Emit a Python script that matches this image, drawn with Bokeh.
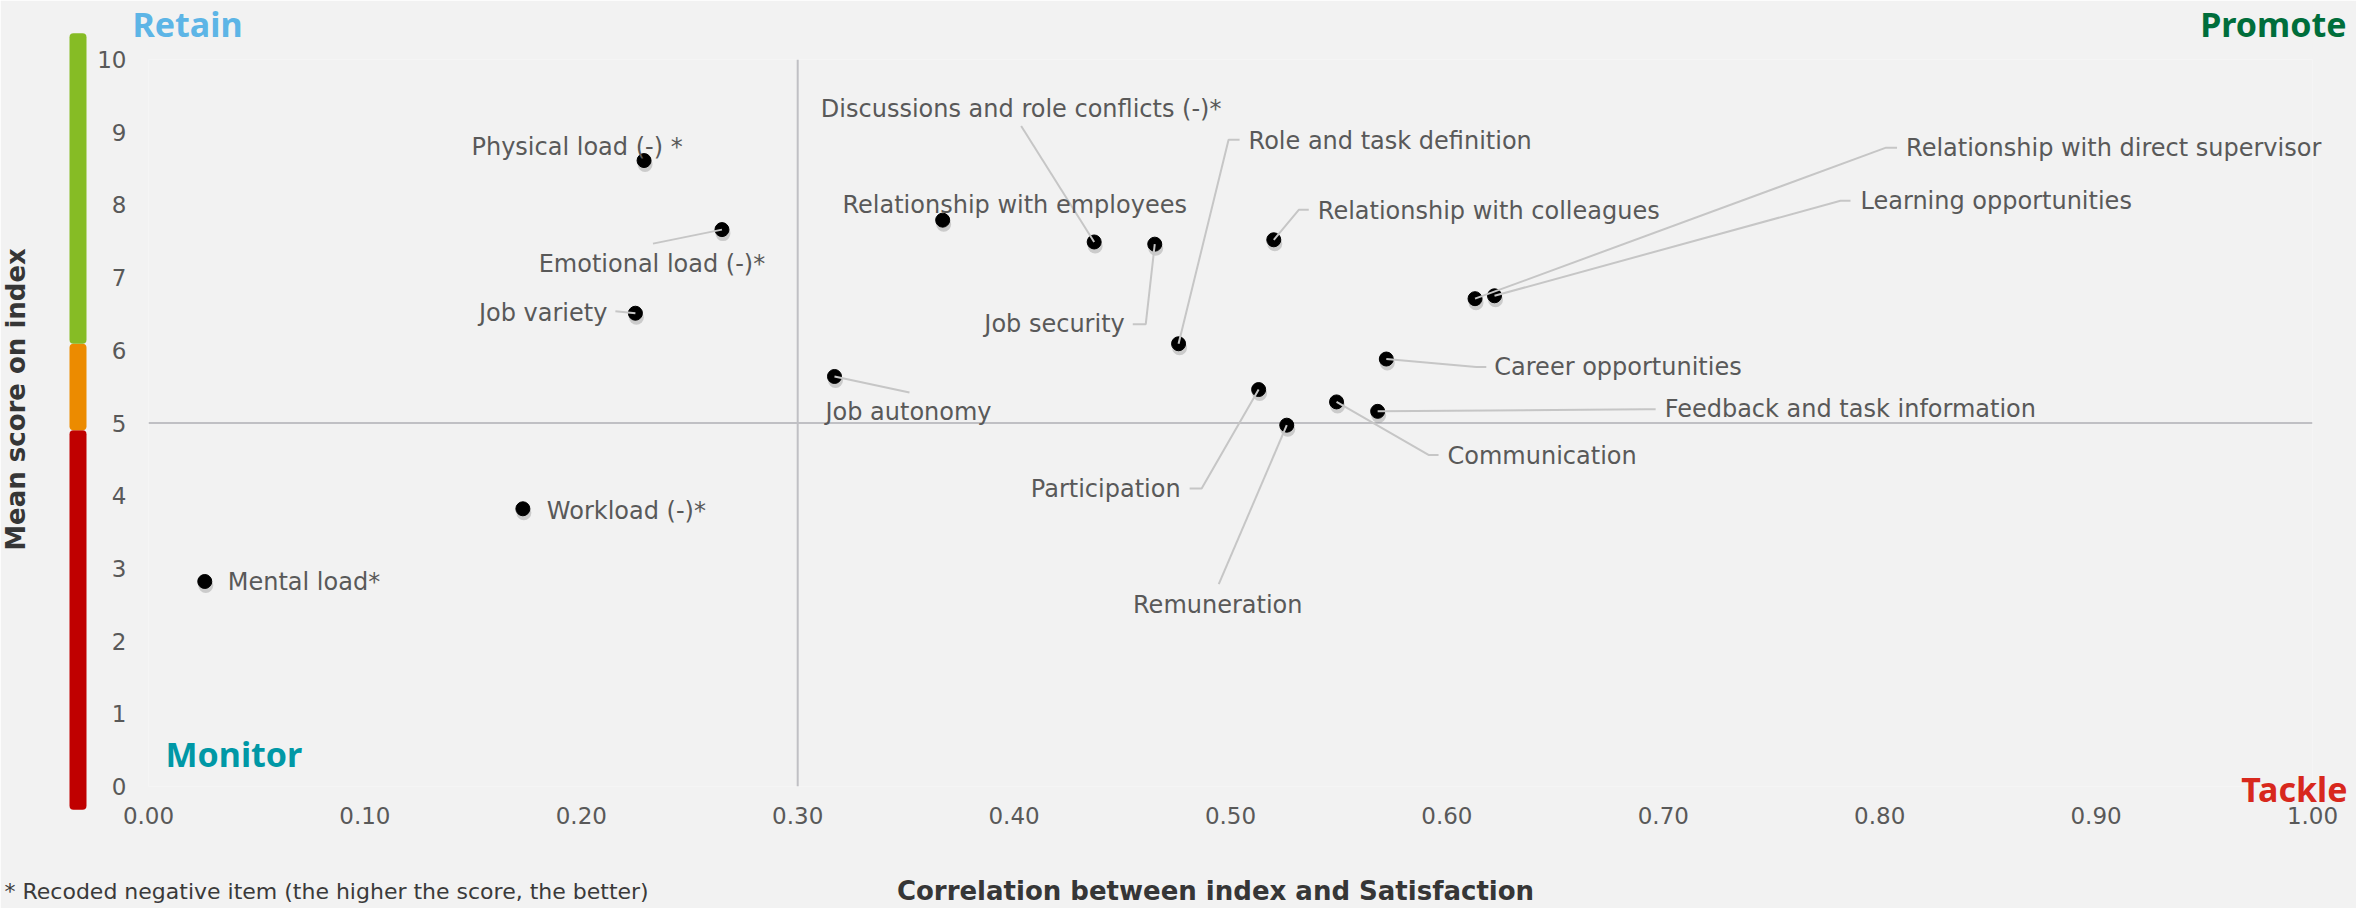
import math
from bokeh.plotting import figure
from bokeh.models import ColumnDataSource, FixedTicker, NumeralTickFormatter, Span
from bokeh.transform import dodge
from bokeh.core.properties import value
from bokeh.embed import file_html
from bokeh.resources import INLINE

# ---------------- data ----------------
factors = [
    "Mental load*", "Workload (-)*", "Job variety", "Physical load (-) *",
    "Emotional load (-)*", "Job autonomy", "Relationship with employees",
    "Discussions and role conflicts (-)*", "Job security", "Role and task definition",
    "Relationship with colleagues", "Relationship with direct supervisor",
    "Learning opportunities", "Career opportunities", "Participation",
    "Communication", "Feedback and task information", "Remuneration",
]
correlation = [0.026, 0.173, 0.225, 0.229, 0.265, 0.317, 0.367, 0.437, 0.465, 0.476,
               0.520, 0.613, 0.622, 0.572, 0.513, 0.549, 0.568, 0.526]
mean_score = [2.82, 3.82, 6.51, 8.61, 7.66, 5.64, 7.79, 7.49, 7.46, 6.09,
              7.52, 6.71, 6.75, 5.88, 5.46, 5.29, 5.16, 4.97]

x_ticks = [0.0, 0.1, 0.2, 0.3, 0.4, 0.5, 0.6, 0.7, 0.8, 0.9, 1.0]
y_ticks = [0, 1, 2, 3, 4, 5, 6, 7, 8, 9, 10]
x_threshold = 0.30
y_threshold = 5
band_edges = [-0.32, 4.90, 6.09, 10.36]
band_colors = ["#c00000", "#ec8b00", "#86bc25"]
quadrant_names = ["Retain", "Promote", "Monitor", "Tackle"]
quadrant_colors = ["#5db5e6", "#006e3b", "#0098a6", "#d8281d"]
x_title = "Correlation between index and Satisfaction"
y_title = "Mean score on index"
footnote = "* Recoded negative item (the higher the score, the better)"

# ---------------- layout (pixels) ----------------
W, H = 2356, 908
FRAME_L, FRAME_R, FRAME_T, FRAME_B = 148, 44, 59, 122
FRAME_W = W - FRAME_L - FRAME_R
FRAME_H = H - FRAME_T - FRAME_B
X0, X1 = 0.0, 1.0
Y0, Y1 = 0.0, 10.0
PX_X = FRAME_W / (X1 - X0)
PX_Y = FRAME_H / (Y1 - Y0)


def cx(px):
    return X0 + (px - FRAME_L) / PX_X


def cy(py):
    return Y0 + (FRAME_T + FRAME_H - py) / PX_Y


# label offsets from each dot in px (dx right, dy down), alignment, leader elbows
label_layout = {
    "Mental load*": (23, 1, "left", []),
    "Workload (-)*": (24, 2, "left", []),
    "Job variety": (-28, 0, "right", [(-20, -2)]),
    "Physical load (-) *": (-67, -14, "center", []),
    "Emotional load (-)*": (-70, 34, "center", [(-69, 14)]),
    "Job autonomy": (74, 36, "center", [(75, 16)]),
    "Relationship with employees": (72, -15, "center", []),
    "Discussions and role conflicts (-)*": (-73, -133, "center", [(-73, -116)]),
    "Job security": (-30, 80, "right", [(-9, 80), (-22, 80)]),
    "Role and task definition": (70, -203, "left", [(50, -204), (61, -204)]),
    "Relationship with colleagues": (44, -29, "left", [(25, -30), (35, -30)]),
    "Relationship with direct supervisor": (431, -151, "left", [(411, -151), (422, -151)]),
    "Learning opportunities": (366, -95, "left", [(346, -95), (356, -95)]),
    "Career opportunities": (108, 8, "left", [(90, 8), (100, 8)]),
    "Participation": (-78, 99, "right", [(-57, 99), (-69, 99)]),
    "Communication": (111, 54, "left", [(92, 53), (102, 53)]),
    "Feedback and task information": (287, -2, "left", [(268, -2), (278, -2)]),
    "Remuneration": (-69, 180, "center", [(-68, 159)]),
}

FONT = "DejaVu Sans"
QFONT = "Noto Sans"
LABEL_COLOR = "#595959"
TITLE_COLOR = "#363636"
BG = "#f2f2f2"

p = figure(width=W, height=H, x_range=(X0, X1), y_range=(Y0, Y1),
           output_backend="svg", toolbar_location=None,
           min_border_left=FRAME_L, min_border_right=FRAME_R,
           min_border_top=FRAME_T, min_border_bottom=FRAME_B)
p.background_fill_color = BG
p.border_fill_color = BG
p.outline_line_color = None
p.xgrid.visible = False
p.ygrid.visible = False

for ax in (p.xaxis[0], p.yaxis[0]):
    ax.axis_line_color = None
    ax.major_tick_line_color = None
    ax.minor_tick_line_color = None
    ax.major_tick_out = 0
    ax.major_tick_in = 0
    ax.minor_tick_out = 0
    ax.major_label_text_font = FONT
    ax.major_label_text_font_size = "23px"
    ax.major_label_text_color = LABEL_COLOR

p.xaxis[0].ticker = FixedTicker(ticks=x_ticks)
p.xaxis[0].formatter = NumeralTickFormatter(format="0.00")
p.xaxis[0].major_label_standoff = 20
p.yaxis[0].ticker = FixedTicker(ticks=y_ticks)
p.yaxis[0].major_label_standoff = 22

# quadrant lines
p.add_layout(Span(location=x_threshold, dimension="height", line_color="#c0c0c4",
                  line_width=2, level="underlay"))
p.add_layout(Span(location=y_threshold, dimension="width", line_color="#c0c0c4",
                  line_width=2, level="underlay"))

# colour band on the left (score categories)
bar_left, bar_right = cx(69), cx(86)
band_src = ColumnDataSource(dict(bottom=band_edges[:-1], top=band_edges[1:],
                                 color=band_colors))
p.quad(left=bar_left, right=bar_right, bottom="bottom", top="top", source=band_src,
       fill_color="color", line_color=None, border_radius=4, level="overlay")

# points
src = ColumnDataSource(dict(x=correlation, y=mean_score, name=factors))
p.scatter(x=dodge("x", 1 / PX_X), y=dodge("y", -4 / PX_Y), source=src, size=15,
          fill_color="black", fill_alpha=0.16, line_color=None)
p.scatter(x="x", y="y", source=src, size=14, fill_color="black", line_color="black",
          line_width=1)

# leader lines
xs, ys = [], []
for name, x, y in zip(factors, correlation, mean_score):
    dx, dy, align, elbows = label_layout[name]
    if elbows:
        xs.append([x] + [x + ex / PX_X for ex, ey in elbows])
        ys.append([y] + [y - ey / PX_Y for ex, ey in elbows])
p.multi_line(xs, ys, line_color="#c6c6c6", line_width=2)

# labels grouped by alignment
for align in ("left", "right", "center"):
    lx, ly, lt = [], [], []
    for name, x, y in zip(factors, correlation, mean_score):
        dx, dy, a, elbows = label_layout[name]
        if a == align:
            lx.append(x + dx / PX_X)
            ly.append(y - dy / PX_Y)
            lt.append(name)
    p.text(x=lx, y=ly, text=lt, text_align=align, text_baseline="middle",
           text_font=value(FONT), text_font_size="24px", text_color=LABEL_COLOR,
           level="overlay")

# quadrant labels (position = visual centre of the word)
q_pos = [(132, 23, "left"), (2346, 23, "right"), (165, 753, "left"), (2347, 788, "right")]
for name, color, (qx, qy, qa) in zip(quadrant_names, quadrant_colors, q_pos):
    p.text(x=[cx(qx)], y=[cy(qy)], text=[name], text_align=qa,
           text_baseline="middle", text_font=value(QFONT), text_font_size="34px",
           text_font_style="bold", text_color=color, level="overlay")

# axis titles and footnote
p.text(x=[cx(1215)], y=[cy(890)], text=[x_title], text_align="center",
       text_baseline="middle", text_font=value(FONT), text_font_size="26px",
       text_font_style="bold", text_color=TITLE_COLOR, level="overlay")
p.text(x=[cx(15)], y=[cy(399)], text=[y_title], text_align="center",
       text_baseline="middle", angle=math.pi / 2, text_font=value(FONT),
       text_font_size="26px", text_font_style="bold", text_color=TITLE_COLOR,
       level="overlay")
p.text(x=[cx(4)], y=[cy(891)], text=[footnote], text_align="left",
       text_baseline="middle", text_font=value(FONT), text_font_size="22px",
       text_color="#3a3a3a", level="overlay")

open("out.html", "w").write(file_html(p, INLINE))
